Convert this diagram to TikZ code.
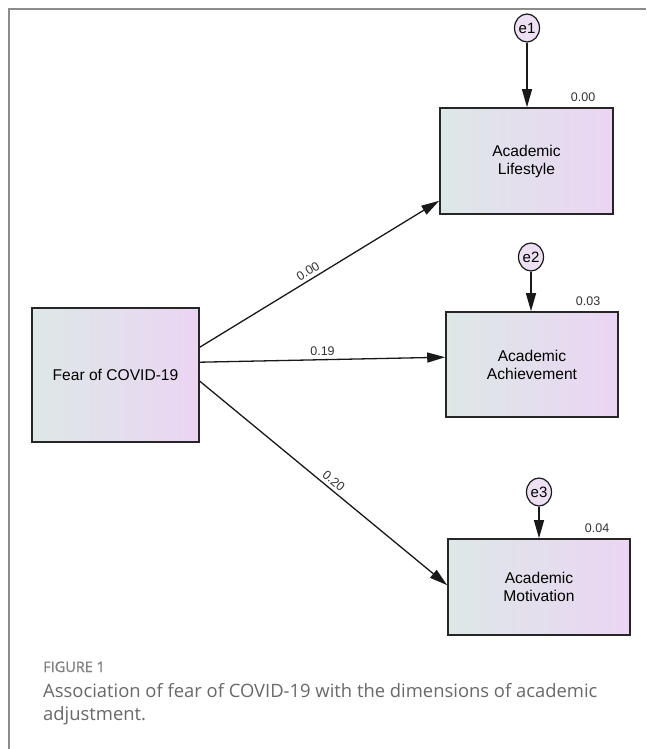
\documentclass[tikz,border=0pt]{standalone}
\usepackage{fontspec}
\setmainfont{Liberation Sans}
\newfontfamily\capfont{Open Sans}
\newfontfamily\capfontsb[FakeBold=1.2]{Open Sans}
\usetikzlibrary{arrows.meta,calc,shapes.geometric}
\definecolor{gl}{RGB}{221,232,231}
\definecolor{gr}{RGB}{235,213,243}
\definecolor{ef}{RGB}{236,224,242}
\definecolor{framegray}{RGB}{140,140,140}
\definecolor{capgray}{RGB}{105,105,105}
\begin{document}
\begin{tikzpicture}[x=1pt,y=-1pt,
  box/.style={draw=black!85, line width=1.6pt, left color=gl, right color=gr,
    align=center, font=\fontsize{15.6}{18}\selectfont, inner sep=0pt},
  err/.style={ellipse, draw=black!90, line width=1.2pt, fill=ef, minimum width=25pt,
    minimum height=28pt, inner sep=0pt, font=\fontsize{15}{15}\selectfont},
  pathto/.style={line width=1.3pt, draw=black!90, -{Triangle[length=18pt,width=10pt]}},
  coef/.style={font=\fontsize{12.5}{12.5}\selectfont, text=black!80},
  framestyle/.style={draw=framegray, line width=1.5pt},
  capstyle/.style={anchor=base west, inner sep=0pt, text=capgray}]
\useasboundingbox (0,0) rectangle (646,749);
\fill[white] (0,0) rectangle (646,749);
\draw[framestyle] (9,749) -- (9,9) -- (646,9);

\node[box, minimum width=167pt, minimum height=134pt] (fear) at (115.5,375) {Fear of COVID-19};
\node[box, minimum width=173pt, minimum height=106pt] (life) at (526.5,161) {Academic\\Lifestyle};
\node[box, minimum width=172pt, minimum height=105pt] (ach) at (532,364.5) {Academic\\Achievement};
\node[box, minimum width=182pt, minimum height=96pt] (mot) at (539,587) {Academic\\Motivation};

\node[err] (e1) at (527,28) {e1};
\node[err] (e2) at (531,257) {e2};
\node[err] (e3) at (539,492) {e3};

\draw[pathto] (e1) -- (e1 |- life.north);
\draw[pathto] (e2) -- (e2 |- ach.north);
\draw[pathto] (e3) -- (e3 |- mot.north);

\node[coef, anchor=base east] (v1) at ([xshift=-15pt,yshift=6pt]life.north east) {0.00};
\node[coef, anchor=base east] (v2) at ([xshift=-15pt,yshift=6pt]ach.north east) {0.03};
\node[coef, anchor=base east] (v3) at ([xshift=-18pt,yshift=6pt]mot.north east) {0.04};

\draw[pathto] ([yshift=-40pt]fear.north east) -- node[coef, sloped, above, pos=0.47] (c1) {0.00} ([yshift=14pt]life.south west);
\draw[pathto] ([yshift=-55pt]fear.north east) -- node[coef, above] (c2) {0.19} ([yshift=-46pt]ach.north west);
\draw[pathto] ([yshift=-74pt]fear.north east) -- node[coef, sloped, above, pos=0.52] (c3) {0.20} ([yshift=-47pt]mot.north west);

\node[capstyle, font=\capfontsb\fontsize{14.5}{16}\selectfont, text=capgray!85] (fig) at (43,672) {FIGURE 1};
\node[capstyle, font=\capfont\fontsize{18.4}{23}\selectfont] (cap1) at (43,697) {Association of fear of COVID-19 with the dimensions of academic};
\node[capstyle, font=\capfont\fontsize{18.4}{23}\selectfont] (cap2) at (43,720) {adjustment.};
\end{tikzpicture}
\end{document}
